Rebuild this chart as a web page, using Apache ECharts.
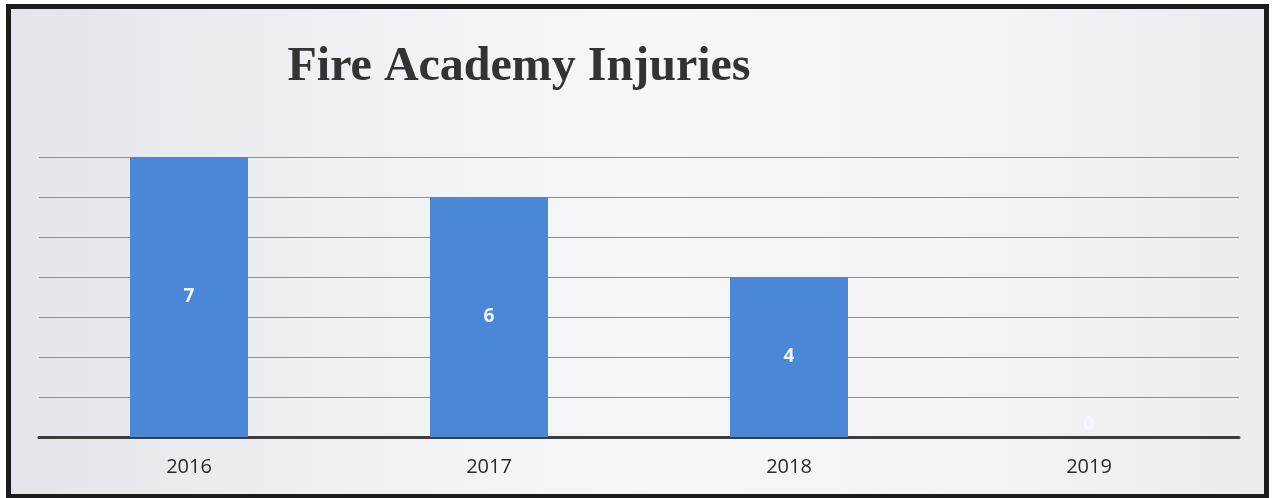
<!DOCTYPE html>
<html>
<head>
<meta charset="utf-8">
<script src="https://cdn.jsdelivr.net/npm/echarts@6/dist/echarts.min.js"></script>
<style>
html,body{margin:0;padding:0;background:#fff;}
#frame{position:absolute;left:6px;top:4px;width:1263px;height:494px;box-sizing:border-box;border:5px solid #1c1c1c;border-bottom:4px solid #1c1c1c;
background:linear-gradient(90deg,#e3e5eb 0%,#eef0f3 25%,#f7f7f8 50%,#f3f2f5 80%,#ecebef 100%);}
#chart{position:absolute;left:0;top:0;width:1272px;height:498px;}
</style>
</head>
<body>
<div id="frame"></div>
<div id="chart"></div>
<script>
const categories = ['2016', '2017', '2018', '2019'];
const injuries = [7, 6, 4, 0];
const titleText = 'Fire Academy Injuries';

const chart = echarts.init(document.getElementById('chart'), null, {renderer: 'canvas'});
const dataItems = injuries.map(v => v === 0
  ? {value: v, label: {position: 'top', distance: 3}}
  : {value: v});

chart.setOption({
  backgroundColor: 'transparent',
  animation: false,
  title: {
    text: titleText,
    left: 514, top: 39, textAlign: 'center',
    textStyle: {fontFamily: 'Liberation Serif', fontWeight: 'bold', fontSize: 48, color: '#333'}
  },
  grid: {left: 39, right: 33, top: 157, bottom: 61},
  xAxis: {
    type: 'category',
    data: categories,
    axisLine: {show: true, lineStyle: {color: '#3d3d3d', width: 3}},
    axisTick: {show: false},
    axisLabel: {fontFamily: 'Open Sans', fontSize: 20, color: '#2a2a2a', margin: 20}
  },
  yAxis: {
    type: 'value', min: 0, max: 7, interval: 1,
    axisLabel: {show: false}, axisLine: {show: false}, axisTick: {show: false},
    splitLine: {show: true, lineStyle: {color: '#8e8e8e', width: 1}}
  },
  series: [{
    type: 'bar',
    data: dataItems,
    barWidth: 118,
    itemStyle: {color: '#4a87d6'},
    label: {
      show: true, position: 'inside',
      fontFamily: 'Open Sans', fontWeight: 'bold', fontSize: 19, color: '#f4f7ff'
    }
  }]
});
</script>
</body>
</html>
